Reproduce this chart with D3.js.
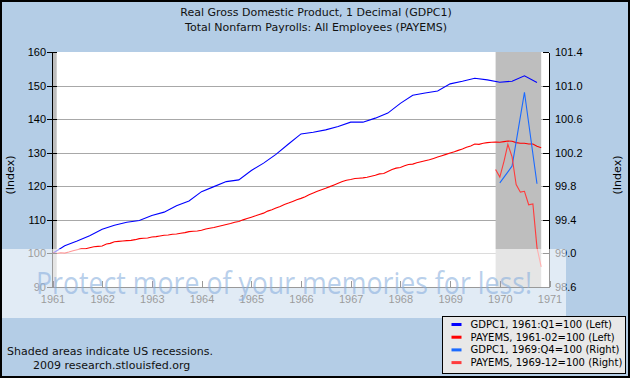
<!DOCTYPE html>
<html>
<head>
<meta charset="utf-8">
<script src="https://cdnjs.cloudflare.com/ajax/libs/d3/7.8.5/d3.min.js"></script>
<style>
  body { margin: 0; padding: 0; background: #fff; }
  svg { display: block; font-family: 'DejaVu Sans', Verdana, sans-serif; }
  .tick-label { font-size: 11px; fill: #000; }
  .legend-label { font-size: 10px; fill: #000; }
</style>
</head>
<body>
<div id="chart"></div>
<script>

// GDPC1 quarterly, 1961:Q1 = 100 (left axis)
var gdpQuarters = [
  '1961-01','1961-04','1961-07','1961-10','1962-01','1962-04','1962-07','1962-10',
  '1963-01','1963-04','1963-07','1963-10','1964-01','1964-04','1964-07','1964-10',
  '1965-01','1965-04','1965-07','1965-10','1966-01','1966-04','1966-07','1966-10',
  '1967-01','1967-04','1967-07','1967-10','1968-01','1968-04','1968-07','1968-10',
  '1969-01','1969-04','1969-07','1969-10','1970-01','1970-04','1970-07','1970-10'
];
var gdpLeft = [
  100.0, 102.3, 103.7, 105.3, 107.2, 108.4, 109.3, 109.8,
  111.3, 112.3, 114.2, 115.6, 118.4, 119.9, 121.4, 121.9,
  124.7, 126.9, 129.5, 132.6, 135.6, 136.1, 136.8, 137.8,
  139.1, 139.1, 140.3, 141.8, 144.7, 147.1, 147.8, 148.4,
  150.5, 151.3, 152.2, 151.7, 151.0, 151.3, 152.9, 150.9
];

// PAYEMS monthly, 1961-02 = 100 (left axis), Jan 1961 .. Nov 1970
var payemsStart = '1961-01';
var payemsLeft = [
  100.2, 100.0, 100.2, 100.1, 100.4, 100.8, 101.1, 101.4, 101.4, 101.7, 102.0, 102.1,
  102.2, 102.8, 103.0, 103.5, 103.6, 103.7, 103.8, 103.9, 104.1, 104.4, 104.5, 104.6,
  104.9, 105.0, 105.2, 105.4, 105.5, 105.7, 105.8, 106.0, 106.2, 106.5, 106.6, 106.7,
  106.9, 107.3, 107.5, 107.7, 108.0, 108.3, 108.6, 108.9, 109.3, 109.5, 110.0, 110.4,
  110.8, 111.2, 111.6, 112.0, 112.6, 113.0, 113.5, 114.0, 114.6, 115.0, 115.5, 116.0,
  116.4, 116.9, 117.5, 118.0, 118.5, 119.0, 119.4, 119.9, 120.4, 120.9, 121.4, 121.8,
  122.0, 122.3, 122.4, 122.5, 122.7, 123.0, 123.3, 123.7, 123.8, 124.4, 125.0, 125.4,
  125.6, 126.1, 126.5, 126.6, 127.0, 127.3, 127.6, 127.9, 128.3, 128.7, 129.1, 129.5,
  129.9, 130.3, 130.7, 131.1, 131.6, 132.0, 132.6, 132.5, 132.8, 133.0, 133.1, 133.2,
  133.1, 133.3, 133.5, 133.4, 133.0, 132.8, 132.8, 132.6, 132.6, 131.9, 131.5
];

// GDPC1, 1969:Q4 = 100 (right axis)
var gdpRightQuarters = ['1970-01','1970-04','1970-07','1970-10'];
var gdpRight = [99.84, 100.04, 100.92, 99.83];

// PAYEMS, 1969-12 = 100 (right axis), Dec 1969 .. Nov 1970
var payemsRightStart = '1969-12';
var payemsRight = [100.0, 99.91, 100.10, 100.30, 100.15, 99.82, 99.73, 99.74, 99.58, 99.59, 99.07, 98.84];

// recessions (NBER peak / trough months)
var recStarts = ['1960-04', '1969-12'];
var recEnds = ['1961-02', '1970-11'];

var leftTicks = [90, 100, 110, 120, 130, 140, 150, 160];
var rightTicks = [98.6, 99.0, 99.4, 99.8, 100.2, 100.6, 101.0, 101.4];
var yearTicks = [1961, 1962, 1963, 1964, 1965, 1966, 1967, 1968, 1969, 1970, 1971];

var titles = ['Real Gross Domestic Product, 1 Decimal (GDPC1)',
              'Total Nonfarm Payrolls: All Employees (PAYEMS)'];
var legendNames = ['GDPC1, 1961:Q1=100 (Left)', 'PAYEMS, 1961-02=100 (Left)',
                   'GDPC1, 1969:Q4=100 (Right)', 'PAYEMS, 1969-12=100 (Right)'];
var legendColors = ['#0000ff', '#ff0000', '#1a6aff', '#ff3c3c'];


var parseMonth = d3.timeParse('%Y-%m');

function monthSeries(start, values) {
  var d0 = parseMonth(start);
  return values.map(function(v, i) {
    return { date: d3.timeMonth.offset(d0, i), value: v };
  });
}

function drawChart() {
  var width = 630, height = 378;
  var svg = d3.select('#chart').append('svg')
    .attr('width', width)
    .attr('height', height);

  var x = d3.scaleTime()
    .domain([new Date(1961, 0, 1), new Date(1971, 0, 1)])
    .range([52.5, 549.5]);
  var yLeft = d3.scaleLinear().domain([90, 160]).range([287, 52]);
  var yRight = d3.scaleLinear().domain([98.6, 101.4]).range([287, 52]);

  // Background
  svg.append('rect')
    .attr('width', width).attr('height', height)
    .attr('fill', '#b4cde6');

  // Titles
  svg.selectAll('.title').data(titles).enter()
    .append('text')
    .attr('x', 316)
    .attr('y', function(d, i) { return 16 + i * 15; })
    .attr('text-anchor', 'middle')
    .style('font-size', '11px')
    .attr('fill', '#111')
    .text(function(d) { return d; });

  // Plot area
  svg.append('rect')
    .attr('x', x.range()[0]).attr('y', 52)
    .attr('width', x.range()[1] - x.range()[0])
    .attr('height', 287 - 52)
    .attr('fill', '#fff');

  // Grid lines
  svg.selectAll('.grid').data(leftTicks.slice(1, -1)).enter()
    .append('line')
    .attr('x1', x.range()[0]).attr('x2', x.range()[1])
    .attr('y1', function(d) { return Math.round(yLeft(d)) + 0.5; })
    .attr('y2', function(d) { return Math.round(yLeft(d)) + 0.5; })
    .attr('stroke', '#a8a8a8')
    .attr('shape-rendering', 'crispEdges');

  // Recession shading
  var recs = recStarts.map(function(s, i) {
    var a = parseMonth(s), b = parseMonth(recEnds[i]);
    return [a < x.domain()[0] ? x.domain()[0] : a, b];
  });
  svg.selectAll('.rec').data(recs).enter()
    .append('rect')
    .attr('x', function(d) { return x(d[0]); })
    .attr('width', function(d) { return x(d[1]) - x(d[0]); })
    .attr('y', 52).attr('height', 287 - 52)
    .attr('fill', '#bebebe');

  // Series
  var gdpL = gdpQuarters.map(function(q, i) { return { date: parseMonth(q), value: gdpLeft[i] }; });
  var payL = monthSeries(payemsStart, payemsLeft);
  var gdpR = gdpRightQuarters.map(function(q, i) { return { date: parseMonth(q), value: gdpRight[i] }; });
  var payR = monthSeries(payemsRightStart, payemsRight);

  var series = [
    { data: gdpL, y: yLeft, color: legendColors[0] },
    { data: payL, y: yLeft, color: legendColors[1] },
    { data: gdpR, y: yRight, color: legendColors[2] },
    { data: payR, y: yRight, color: legendColors[3] }
  ];

  svg.selectAll('.series').data(series).enter()
    .append('path')
    .attr('fill', 'none')
    .attr('stroke', function(d) { return d.color; })
    .attr('stroke-width', 1.1)
    .attr('d', function(s) {
      return d3.line()
        .x(function(d) { return x(d.date); })
        .y(function(d) { return s.y(d.value); })(s.data);
    });

  // Left axis
  var leftAxis = svg.append('g')
    .attr('transform', 'translate(' + (x.range()[0] - 0.5) + ',0)')
    .call(d3.axisLeft(yLeft).tickValues(leftTicks).tickSize(5).tickFormat(d3.format('d')));
  leftAxis.selectAll('.tick line').clone().attr('x2', 5);

  // Right axis
  var rightAxis = svg.append('g')
    .attr('transform', 'translate(' + (x.range()[1] - 0.5) + ',0)')
    .call(d3.axisRight(yRight).tickValues(rightTicks).tickSize(0).tickPadding(6).tickFormat(d3.format('.1f')));
  rightAxis.selectAll('.tick line').attr('x2', -6);

  // Bottom axis
  var bottomAxis = svg.append('g')
    .attr('transform', 'translate(0,287)')
    .call(d3.axisBottom(x)
      .tickValues(yearTicks.map(function(y) { return new Date(y, 0, 1); }))
      .tickSize(0).tickPadding(6).tickFormat(d3.timeFormat('%Y')));
  bottomAxis.selectAll('.tick line').attr('y2', -6);

  [leftAxis, rightAxis, bottomAxis].forEach(function(a) {
    a.selectAll('.domain').attr('stroke', '#000').attr('shape-rendering', 'crispEdges');
    a.selectAll('.tick line').attr('stroke', '#000').attr('shape-rendering', 'crispEdges');
    a.selectAll('.tick text').classed('tick-label', true)
      .attr('font-family', null).attr('font-size', null).attr('fill', '#000');
  });
  leftAxis.selectAll('.tick text').attr('x', -6);
  bottomAxis.selectAll('.tick text').attr('dy', '0.9em');

  // Axis titles
  svg.append('text')
    .attr('transform', 'translate(14,175) rotate(-90)')
    .attr('text-anchor', 'middle')
    .style('font-size', '11px')
    .text('(Index)');
  svg.append('text')
    .attr('transform', 'translate(621,175) rotate(-90)')
    .attr('text-anchor', 'middle')
    .style('font-size', '11px')
    .text('(Index)');

  // Footer notes
  svg.append('text').attr('x', 7).attr('y', 355)
    .style('font-size', '11px').attr('fill', '#111')
    .text('Shaded areas indicate US recessions.');
  svg.append('text').attr('x', 33).attr('y', 369)
    .style('font-size', '11px').attr('fill', '#111')
    .text('2009 research.stlouisfed.org');

  // Watermark band over the lower part of the chart
  svg.append('rect')
    .attr('x', 0).attr('y', 249)
    .attr('width', 566).attr('height', 69)
    .attr('fill', '#fff').attr('fill-opacity', 0.6);
  svg.append('text')
    .attr('x', 36).attr('y', 294)
    .attr('textLength', 496)
    .attr('lengthAdjust', 'spacingAndGlyphs')
    .style('font-family', "'Open Sans', 'Liberation Sans', Arial, sans-serif")
    .style('font-size', '31px')
    .attr('fill', '#8ab0de').attr('fill-opacity', 0.6)
    .text('Protect more of your memories for less!');

  // Legend
  var legend = svg.append('g').attr('transform', 'translate(442.5,316.5)');
  legend.append('rect')
    .attr('width', 183).attr('height', 57)
    .attr('fill', '#e8e8e8').attr('stroke', '#000');
  var items = legend.selectAll('.item').data(legendNames).enter()
    .append('g')
    .attr('transform', function(d, i) { return 'translate(0,' + (8 + i * 12.7) + ')'; });
  items.append('line')
    .attr('x1', 9).attr('x2', 19)
    .attr('stroke', function(d, i) { return legendColors[i]; })
    .attr('stroke-width', 3);
  items.append('text')
    .attr('x', 28).attr('y', 3.5)
    .classed('legend-label', true)
    .text(function(d) { return d; });

  // Outer frame
  svg.append('rect')
    .attr('x', 1).attr('y', 1)
    .attr('width', width - 2).attr('height', height - 2)
    .attr('fill', 'none').attr('stroke', '#000').attr('stroke-width', 2);
}

drawChart();

</script>
</body>
</html>
